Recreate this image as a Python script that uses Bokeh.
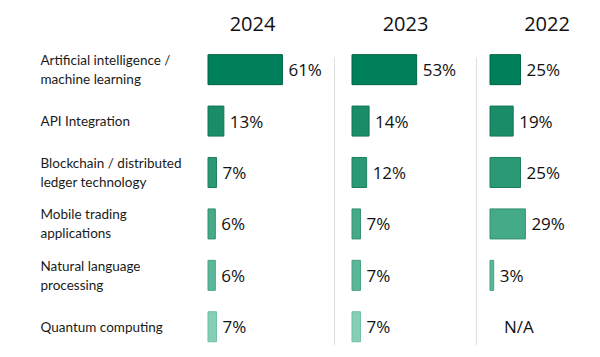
from bokeh.plotting import figure
from bokeh.models import ColumnDataSource, Range1d
from bokeh.core.properties import value
from bokeh.embed import file_html
from bokeh.resources import INLINE

# ---- data ----
categories = [
    "Artificial intelligence /\nmachine learning",
    "API Integration",
    "Blockchain / distributed\nledger technology",
    "Mobile trading\napplications",
    "Natural language\nprocessing",
    "Quantum computing",
]
years = ["2024", "2023", "2022"]
values_2024 = [61, 13, 7, 6, 6, 7]
values_2023 = [53, 14, 12, 7, 7, 7]
values_2022 = [25, 19, 25, 29, 3, None]   # None = N/A
row_colors = ["#00805a", "#1b8c69", "#2b9876", "#45aa88", "#5ab79a", "#86cfb6"]
edge_colors = ["#006446", "#137455", "#1f7e60", "#33906f", "#48a284", "#6fbfa3"]

# ---- geometry (pixels) ----
W, H = 600, 357
PX_PER_PCT = 1.22
ROW0, ROW_STEP = 69.15, 51.42
panel_start = {"2024": 207.5, "2023": 351.5, "2022": 489.5}
title_center = {"2024": 252.0, "2023": 405.0, "2022": 546.5}
separators = {"2023": 334.0, "2022": 476.0}

def x_range_for(start_px):
    return Range1d(-start_px / PX_PER_PCT, (W - start_px) / PX_PER_PCT)

def ypix(py):
    return (py - ROW0) / ROW_STEP

p = figure(width=W, height=H, output_backend="svg", toolbar_location=None,
           x_axis_location=None, y_axis_location=None,
           x_range=x_range_for(panel_start["2024"]),
           y_range=Range1d(ypix(H), ypix(0)),
           min_border=0, outline_line_color=None, background_fill_color="white",
           border_fill_color="white")
p.grid.visible = False
p.extra_x_ranges = {"2023": x_range_for(panel_start["2023"]),
                    "2022": x_range_for(panel_start["2022"])}

LABEL_FONT = value("'Liberation Sans Narrow', Lato, sans-serif")
VAL_FONT = value("Open Sans")

idx = list(range(len(categories)))

# category labels
p.text(x=[(40 - panel_start["2024"]) / PX_PER_PCT] * len(idx), y=idx, text=categories,
       text_font=LABEL_FONT, text_font_size="13.5px", text_color="#1a1a1a",
       text_align="left", text_baseline="middle", text_line_height=1.2)

series = {"2024": values_2024, "2023": values_2023, "2022": values_2022}
for yr in years:
    rname = "default" if yr == "2024" else yr
    vals = series[yr]
    ii = [i for i, v in enumerate(vals) if v is not None]
    src = ColumnDataSource(dict(
        y=ii, right=[vals[i] for i in ii],
        color=[row_colors[i] for i in ii], edge=[edge_colors[i] for i in ii],
        label=[f"{vals[i]}%" for i in ii]))
    p.hbar(y="y", left=0, right="right", height=30 / ROW_STEP, fill_color="color",
           line_color="edge", line_width=1, source=src, x_range_name=rname)
    p.text(x="right", y="y", text="label", source=src, x_offset=6,
           text_font=VAL_FONT, text_font_size="17px", text_color="#111111",
           text_align="left", text_baseline="middle", x_range_name=rname)
    na = [i for i, v in enumerate(vals) if v is None]
    if na:
        p.text(x=[0] * len(na), y=na, text=["N/A"] * len(na), x_offset=14,
               text_font=VAL_FONT, text_font_size="17px", text_color="#111111",
               text_align="left", text_baseline="middle", x_range_name=rname)
    # year heading
    p.text(x=[(title_center[yr] - panel_start[yr]) / PX_PER_PCT], y=[ypix(23)], text=[yr],
           text_font=VAL_FONT, text_font_size="20px", text_color="#111111",
           text_align="center", text_baseline="middle", x_range_name=rname)
    if yr in separators:
        sx = (separators[yr] - panel_start[yr]) / PX_PER_PCT
        p.segment(x0=[sx], x1=[sx], y0=[ypix(57)], y1=[ypix(345)],
                  line_color="#dedede", line_width=1, x_range_name=rname)

open("out.html", "w").write(file_html(p, INLINE))
